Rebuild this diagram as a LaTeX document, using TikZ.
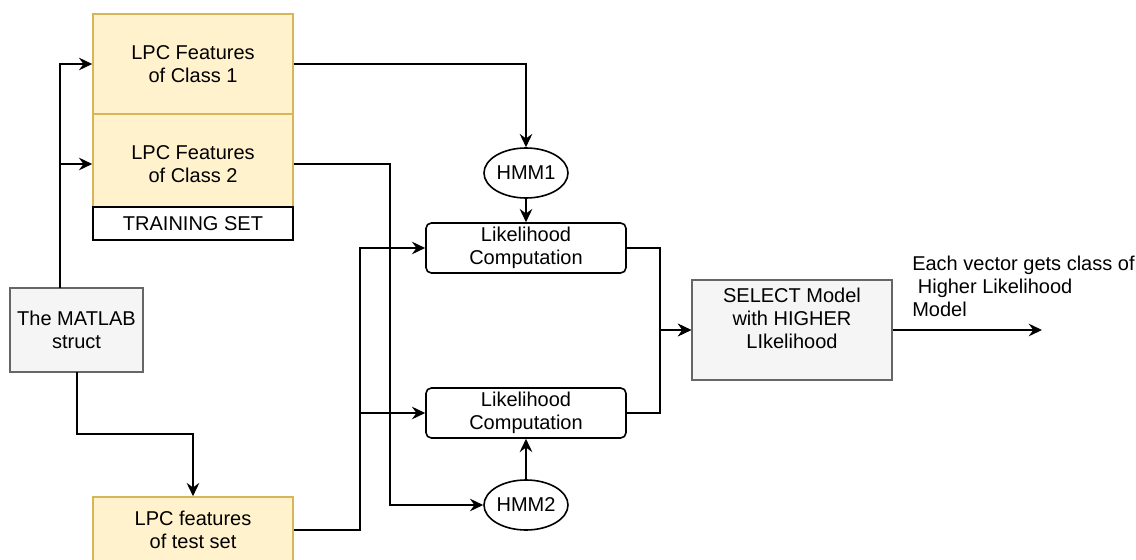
\documentclass[tikz,border=0pt]{standalone}
\usepackage{fontspec}
\setmainfont{Liberation Sans}
\usetikzlibrary{shapes.geometric,arrows.meta}
\definecolor{yfill}{HTML}{FFF2CC}
\definecolor{ydraw}{HTML}{D6B656}
\definecolor{gfill}{HTML}{F5F5F5}
\definecolor{gdraw}{HTML}{666666}
\begin{document}
\begin{tikzpicture}[x=0.75pt,y=-0.75pt,
  every node/.style={font=\fontsize{15}{17.25}\selectfont, inner sep=0pt, align=center},
  ybox/.style={draw=ydraw, fill=yfill, line width=1.2pt, minimum width=150pt, minimum height=75pt},
  wbox/.style={draw=black, fill=white, line width=1.2pt, minimum width=150pt, minimum height=24.75pt},
  gbox/.style={draw=gdraw, fill=gfill, line width=1.2pt},
  rbox/.style={draw=black, fill=white, line width=1.2pt, rounded corners=4pt, minimum width=150pt, minimum height=37.5pt},
  hmm/.style={draw=black, fill=white, ellipse, line width=1.2pt, minimum width=63pt, minimum height=37.5pt},
  arr/.style={draw=black, line width=1.2pt, -{Stealth[length=10pt,width=9.5pt,inset=3.5pt]}},
  ln/.style={draw=black, line width=1.2pt}
]
\useasboundingbox (0,0) rectangle (1136,560);

% training set boxes
\node[ybox] (c1) at (193,64) {LPC Features\\of Class 1};
\node[ybox] (c2) at (193,164) {LPC Features\\of Class 2};
\node[wbox] (ts) at (193,223.5) {TRAINING SET};

% matlab struct
\node[gbox, minimum width=99.75pt, minimum height=63pt] (mat) at (76.5,330) {The MATLAB\\struct};
\coordinate (mtop) at (60,288);
\coordinate (mbot) at (77,372);

% test set
\node[ybox, minimum height=49.5pt] (test) at (193,530) {LPC features\\of test set};

% HMMs and likelihood
\node[hmm] (hmm1) at (526,173) {HMM1};
\node[rbox] (lk1) at (526,248) {Likelihood\\Computation};
\node[rbox] (lk2) at (526,413) {Likelihood\\Computation};
\node[hmm] (hmm2) at (526,505) {HMM2};

% select
\node[gbox, minimum width=150pt, minimum height=75pt] (sel) at (792,330) {SELECT Model\\with HIGHER\\LIkelihood\\\mbox{}};
\coordinate (out) at (1042,330);
\node[anchor=west, align=left] (lbl) at (912,286.5) {Each vector gets class of\\\hspace*{0.28em}Higher Likelihood\\Model};

% connectors
\draw[arr] (mtop) |- (c1.west);
\draw[arr] (mtop) |- (c2.west);
\draw[arr] (mbot) -- ++(0,62) -| (test.north);
\draw[arr] (c1.east) -| (hmm1.north);
\draw[arr] (c2.east) -- ++(96,0) |- (hmm2.west);
\draw[arr] (hmm1) -- (lk1);
\draw[arr] (hmm2) -- (lk2);
\draw[arr] (test.east) -- ++(66,0) |- (lk1.west);
\draw[arr] (test.east) -- ++(66,0) |- (lk2.west);
\draw[arr] (lk1.east) -- ++(33,0) |- (sel.west);
\draw[arr] (lk2.east) -- ++(33,0) |- (sel.west);
\draw[arr] (sel.east) -- (out);
\end{tikzpicture}
\end{document}
